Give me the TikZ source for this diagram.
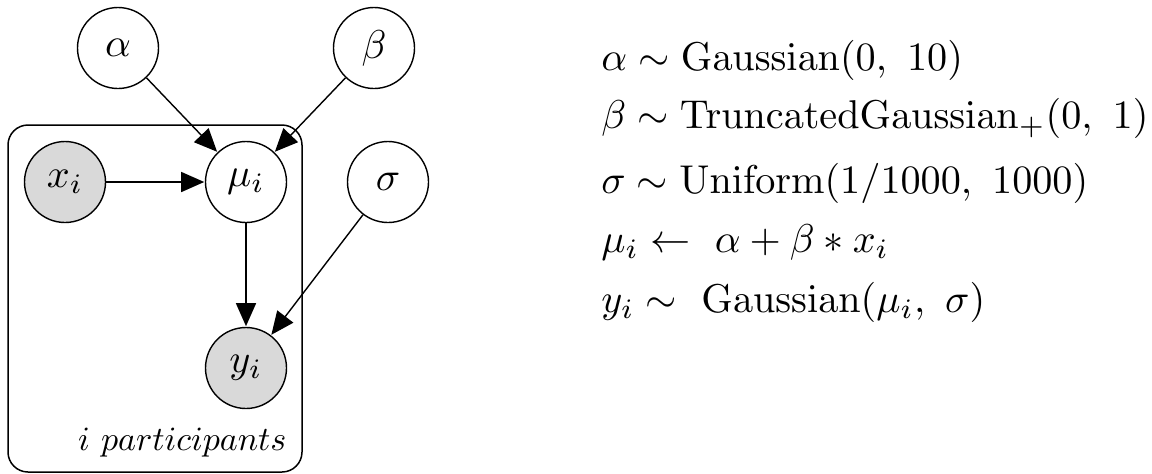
\documentclass[tikz,border=0pt]{standalone}
\usetikzlibrary{arrows.meta}
\newcommand{\mybig}[1]{\scalebox{2.01}{#1}}
\begin{document}
\begin{tikzpicture}[x=0.5pt,y=-0.5pt,
  var/.style={circle,draw,line width=0.7pt,minimum size=40.5pt,inner sep=0pt},
  obs/.style={var,fill=black!15},
  edge/.style={line width=0.7pt,-{Triangle[length=11.5pt,width=10pt]},shorten >=0.3pt},
  eq/.style={anchor=base west,inner sep=0pt}]
\useasboundingbox (0,0) rectangle (1152,473);
\node[draw,line width=0.75pt,rounded corners=10pt,minimum width=147pt,minimum height=173.5pt,inner sep=0pt] (plate) at (155,298.5) {};
\node[var] (alpha) at (118,48) {\mybig{$\alpha$}};
\node[var] (beta) at (374,48) {\mybig{$\beta$}};
\node[obs] (x) at (65,182) {\mybig{$x_i$}};
\node[var] (mu) at (246,182) {\mybig{$\mu_i$}};
\node[var] (sigma) at (388,182) {\mybig{$\sigma$}};
\node[obs] (y) at (246,368) {\mybig{$y_i$}};
\node[anchor=base east,inner sep=0pt] (lab) at (287,450) {\scalebox{1.7}{$i\ participants$}};
\draw[edge] (alpha) -- (mu);
\draw[edge] (beta) -- (mu);
\draw[edge] (x) -- (mu);
\draw[edge] (mu) -- (y);
\draw[edge] (sigma) -- (y);
\node[eq] (e1) at (601,70) {\mybig{$\alpha \sim \mathrm{Gaussian}(0,\ 10)$}};
\node[eq] (e2) at (601,128) {\mybig{$\beta \sim \mathrm{TruncatedGaussian}_{+}(0,\ 1)$}};
\node[eq] (e3) at (601,193) {\mybig{$\sigma \sim \mathrm{Uniform}(1/1000,\ 1000)$}};
\node[eq] (e4) at (601,252) {\mybig{$\mu_i \leftarrow\ \alpha + \beta * x_i$}};
\node[eq] (e5) at (601,312) {\mybig{$y_i \sim\ \mathrm{Gaussian}(\mu_i,\ \sigma)$}};
\end{tikzpicture}
\end{document}
